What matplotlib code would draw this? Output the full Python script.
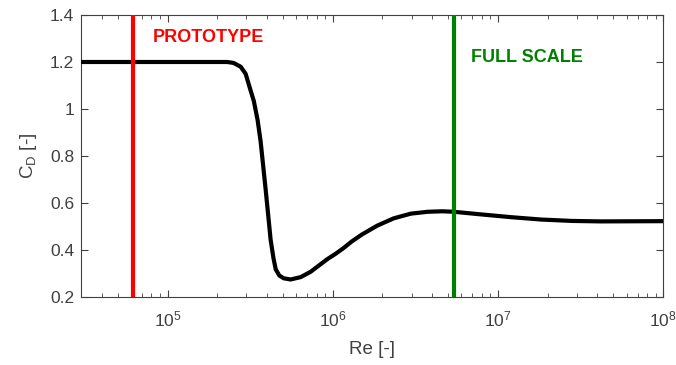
import numpy as np
import matplotlib
matplotlib.use('Agg')
import matplotlib.pyplot as plt

plt.rcParams['font.family'] = ['Liberation Sans', 'DejaVu Sans']
plt.rcParams['mathtext.default'] = 'regular'

# Drag coefficient curve
re = [3e4, 1e5, 2e5, 2.3e5, 2.51e5, 2.77e5, 2.97e5, 3.18e5, 3.33e5, 3.51e5,
      3.66e5, 3.93e5, 4.21e5, 4.38e5, 4.52e5, 4.75e5, 5.05e5, 5.56e5, 6.4e5,
      7.36e5, 8.45e5, 9.3e5, 1.05e6, 1.17e6, 1.3e6, 1.5e6, 1.86e6, 2.34e6,
      2.97e6, 3.77e6, 4.6e6, 5.4e6, 7.57e6, 1.2e7, 1.82e7, 2.8e7, 4.17e7, 1e8]
cd = [1.2, 1.2, 1.2, 1.2, 1.196, 1.18, 1.15, 1.08, 1.034, 0.953,
      0.863, 0.655, 0.443, 0.365, 0.318, 0.292, 0.28, 0.275, 0.285,
      0.308, 0.34, 0.362, 0.386, 0.41, 0.436, 0.466, 0.504, 0.535,
      0.555, 0.563, 0.565, 0.563, 0.553, 0.54, 0.53, 0.524, 0.522, 0.523]

re_prototype = 6.2e4
re_fullscale = 5.4e6

fig = plt.figure(figsize=(6.76, 3.65), dpi=100)
ax = fig.add_axes([0.12, 0.186, 0.861, 0.773])

ax.plot(re, cd, color='k', lw=3, zorder=3, solid_joinstyle='round')
ax.axvline(re_prototype, color='#ff0000', lw=3, zorder=4)
ax.axvline(re_fullscale, color='#008000', lw=3, zorder=4)

ax.text(8.1e4, 1.306, 'PROTOTYPE', color='#ff0000', fontsize=13,
        fontweight='bold', va='center', ha='left')
ax.text(6.86e6, 1.221, 'FULL SCALE', color='#008000', fontsize=13,
        fontweight='bold', va='center', ha='left')

ax.set_xscale('log')
ax.set_xlim(3e4, 1e8)
ax.set_ylim(0.2, 1.4)
ax.set_xticks([1e5, 1e6, 1e7, 1e8])
ax.set_yticks([0.2, 0.4, 0.6, 0.8, 1.0, 1.2, 1.4])
ax.set_yticklabels(['0.2', '0.4', '0.6', '0.8', '1', '1.2', '1.4'])

ax.tick_params(which='both', direction='in', top=True, right=True,
               colors='#404040', labelsize=12.5)
ax.tick_params(which='major', length=5, width=0.8)
ax.tick_params(which='minor', length=3, width=0.6)
ax.tick_params(axis='x', pad=9)
ax.tick_params(axis='y', pad=5)
for s in ax.spines.values():
    s.set_color('#404040')
    s.set_linewidth(0.8)

ax.set_xlabel('Re [-]', fontsize=13.5, color='#404040', labelpad=8)
ax.set_ylabel('C$_D$ [-]', fontsize=13.5, color='#404040', labelpad=8)

fig.savefig('out.png', dpi=100)
